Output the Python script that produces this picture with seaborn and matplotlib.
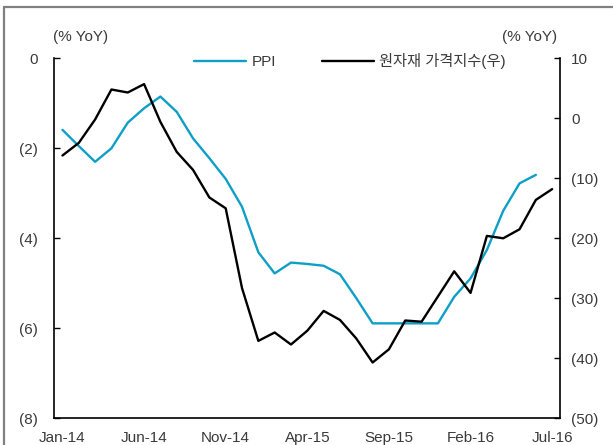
import pandas as pd
import matplotlib
matplotlib.use('Agg')
import matplotlib.pyplot as plt
from matplotlib.lines import Line2D
import seaborn as sns

# monthly data, Jan-14 .. Jul-16
months = pd.date_range('2014-01-01', '2016-07-01', freq='MS')
ppi = [-1.59, -1.95, -2.30, -2.00, -1.43, -1.11, -0.85, -1.19, -1.78, -2.22,
       -2.68, -3.30, -4.31, -4.78, -4.54, -4.57, -4.61, -4.80, -5.33, -5.89,
       -5.89, -5.89, -5.89, -5.89, -5.30, -4.89, -4.26, -3.39, -2.78, -2.59]
raw_mat = [-6.2, -4.1, -0.2, 4.8, 4.3, 5.7, -0.6, -5.6, -8.6, -13.2,
           -15.0, -28.3, -37.1, -35.7, -37.7, -35.4, -32.1, -33.6, -36.7, -40.7,
           -38.5, -33.7, -33.9, -29.7, -25.5, -29.1, -19.6, -20.0, -18.5, -13.6,
           -11.8]
tick_labels = ['Jan-14', 'Jun-14', 'Nov-14', 'Apr-15', 'Sep-15', 'Feb-16', 'Jul-16']
left_ticks = [0, -2, -4, -6, -8]
right_ticks = [10, 0, -10, -20, -30, -40, -50]
series_names = ['PPI', '원자재 가격지수(우)']

blue = '#0E9FC6'
txt = '#3a3a3a'


def paren(v):
    if v < 0:
        return f'({abs(v)})'
    return f'{v}'


sns.set_style('white')
plt.rcParams['font.family'] = ['Liberation Sans', 'Noto Sans CJK KR']
plt.rcParams['font.size'] = 11

df_ppi = pd.DataFrame({'m': range(len(ppi)), 'val': ppi})
df_raw = pd.DataFrame({'m': range(len(raw_mat)), 'val': raw_mat})

fig = plt.figure(figsize=(6.13, 4.45), dpi=100)
ax = fig.add_axes([54.3 / 613, 1 - 418.3 / 445, (560 - 54.3) / 613, 360 / 445])
ax2 = ax.twinx()

sns.lineplot(data=df_ppi, x='m', y='val', ax=ax, color=blue, lw=1.7,
             label=series_names[0], legend=False)
sns.lineplot(data=df_raw, x='m', y='val', ax=ax2, color='black', lw=1.7,
             label=series_names[1], legend=False)

ax.set_xlim(-0.5, 30.48)
ax.set_ylim(-8, 0)
ax2.set_ylim(-50, 10)

# labels sit on the months, tick marks between months
ax.set_xticks(range(0, 31, 5))
ax.set_xticklabels(tick_labels, color=txt)
ax.set_xticks([i - 0.5 for i in range(0, 31, 5)], minor=True)
ax.tick_params(axis='x', which='major', length=0, pad=9)
ax.tick_params(axis='x', which='minor', direction='in', length=4, width=0.8, color='#999999')

ax.set_yticks(left_ticks)
ax.set_yticklabels([paren(v) for v in left_ticks], color=txt)
ax.tick_params(axis='y', direction='in', length=4, width=1, color='black', pad=12)
ax2.set_yticks(right_ticks)
ax2.set_yticklabels([paren(v) for v in right_ticks], color=txt)
ax2.tick_params(axis='y', direction='in', length=4, width=1, color='black', pad=8)

for a in (ax, ax2):
    a.set_xlabel('')
    a.set_ylabel('')
    a.spines['top'].set_visible(False)
    for s in a.spines.values():
        s.set_color('black')
        s.set_linewidth(1.2)
ax.spines['right'].set_visible(False)
ax2.spines['left'].set_visible(False)
ax2.spines['bottom'].set_visible(False)

handles = ax.get_lines()[:1] + ax2.get_lines()[:1]
ax2.legend(handles, series_names, loc='center', bbox_to_anchor=(0.585, 0.992),
           ncol=2, frameon=False, handlelength=3.4, handletextpad=0.35,
           columnspacing=3.0, labelcolor=txt, fontsize=11)

fig.text(81 / 613, 1 - 37 / 445, '(% YoY)', ha='center', va='center', color=txt, fontsize=11)
fig.text(557 / 613, 1 - 37 / 445, '(% YoY)', ha='right', va='center', color=txt, fontsize=11)

# gray frame on top and left edges
fig.add_artist(Line2D([3.5 / 613, 3.5 / 613], [0, 1 - 6.5 / 445],
                      transform=fig.transFigure, color='#808080', lw=1.6))
fig.add_artist(Line2D([3.5 / 613, 1], [1 - 6.5 / 445, 1 - 6.5 / 445],
                      transform=fig.transFigure, color='#808080', lw=1.6))

fig.savefig('out.png', dpi=100)
